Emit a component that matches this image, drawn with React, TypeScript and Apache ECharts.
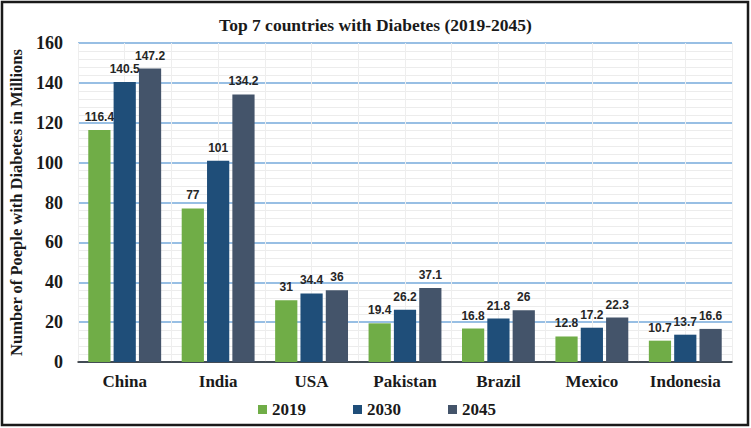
import React, { useEffect, useRef } from "react";
import * as echarts from "echarts";

const categories = ["China", "India", "USA", "Pakistan", "Brazil", "Mexico", "Indonesia"];
const years = ["2019", "2030", "2045"];
const values2019 = [116.4, 77, 31, 19.4, 16.8, 12.8, 10.7];
const values2030 = [140.5, 101, 34.4, 26.2, 21.8, 17.2, 13.7];
const values2045 = [147.2, 134.2, 36, 37.1, 26, 22.3, 16.6];
const colors = ["#70AD47", "#1F4E79", "#44546A"];

const SERIF = "'Liberation Serif', 'DejaVu Serif', serif";
const SANS = "'Liberation Sans', Arial, sans-serif";

export default function App() {
  const ref = useRef<HTMLDivElement>(null);
  useEffect(() => {
    if (!ref.current) return;
    const chart = echarts.init(ref.current, undefined, { renderer: "svg" });
    const seriesData = [values2019, values2030, values2045];
    chart.setOption({
      animation: false,
      backgroundColor: "#ffffff",
      title: {
        text: "Top 7 countries with Diabetes (2019-2045)",
        left: "center",
        top: 11,
        textStyle: { fontFamily: SERIF, fontWeight: "bold", fontSize: 17.5, color: "#1a1a1a" },
      },
      legend: {
        data: years,
        left: 253,
        top: 396,
        icon: "rect",
        itemWidth: 9,
        itemHeight: 9,
        itemGap: 47,
        textStyle: { fontFamily: SERIF, fontWeight: "bold", fontSize: 17, color: "#1a1a1a" },
      },
      grid: { left: 78, right: 19, top: 43, bottom: 66 },
      xAxis: [
        {
          type: "category",
          data: categories,
          axisLine: { show: true, lineStyle: { color: "#262626", width: 1.5 } },
          axisTick: { show: false },
          splitLine: { show: true, lineStyle: { color: "#d9d9d9", width: 1 } },
          axisLabel: {
            margin: 11,
            fontFamily: SERIF,
            fontWeight: "bold",
            fontSize: 17,
            color: "#1a1a1a",
          },
        },
        {
          type: "value",
          min: 0,
          max: 14,
          interval: 1,
          show: true,
          position: "top",
          axisLine: { show: false },
          axisTick: { show: false },
          axisLabel: { show: false },
          splitLine: { show: true, lineStyle: { color: "#eeeeee", width: 1 } },
        },
      ],
      yAxis: {
        type: "value",
        min: 0,
        max: 160,
        interval: 20,
        name: "Number of Poeple with Diabetes in Millions",
        nameLocation: "middle",
        nameGap: 49,
        nameTextStyle: { fontFamily: SERIF, fontWeight: "bold", fontSize: 16.5, color: "#1a1a1a" },
        axisLine: { show: false },
        axisTick: { show: false },
        axisLabel: {
          margin: 15,
          fontFamily: SERIF,
          fontWeight: "bold",
          fontSize: 18,
          color: "#1a1a1a",
        },
        splitLine: { show: true, lineStyle: { color: "#76AADB", width: 1.5 } },
        minorTick: { show: false, splitNumber: 5 },
        minorSplitLine: { show: true, lineStyle: { color: "#ececec", width: 1 } },
      },
      series: years.map((y, i) => ({
        name: y,
        type: "bar",
        xAxisIndex: 0,
        data: seriesData[i],
        barGap: "14%",
        barCategoryGap: "22%",
        itemStyle: { color: colors[i] },
        label: {
          show: true,
          position: "top",
          distance: 7,
          fontFamily: SANS,
          fontWeight: "bold",
          fontSize: 12,
          color: "#262626",
        },
      })),
      graphic: [
        {
          type: "rect",
          shape: { x: 2, y: 2, width: 746, height: 423 },
          style: { fill: "none", stroke: "#1a1a1a", lineWidth: 2.5 },
          silent: true,
        },
      ],
    });
    return () => chart.dispose();
  }, []);
  return (
    <div
      ref={ref}
      style={{ position: "absolute", left: 0, top: 0, width: 751, height: 428 }}
    />
  );
}
